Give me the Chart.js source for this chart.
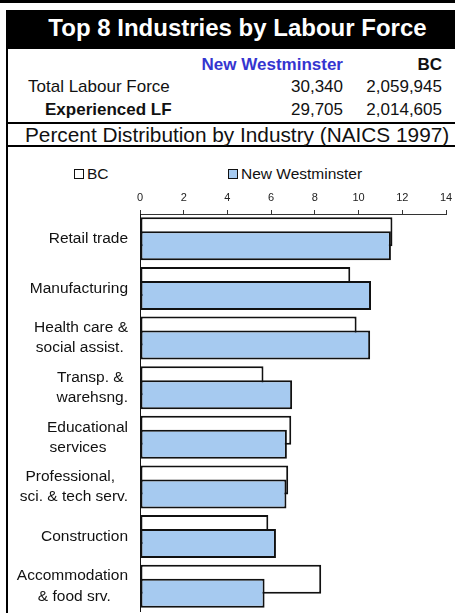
<!DOCTYPE html>
<html>
<head>
<meta charset="utf-8">
<script src="https://cdn.jsdelivr.net/npm/chart.js@4.4.1/dist/chart.umd.min.js"></script>
<style>
    body { margin: 0; width: 455px; height: 613px; overflow: hidden; background: #fff;
           font-family: Arial, 'Liberation Sans', sans-serif; color: #111; position: relative; }
    .abs { position: absolute; line-height: 1; white-space: nowrap; }
    .blk { position: absolute; background: #000; }
    .b { font-weight: bold; }
    .box { position: absolute; width: 8px; height: 8px; border: 1px solid #111; }
</style>
</head>
<body>
<!-- header frame -->
<div class="blk" style="left:0;top:0;width:455px;height:3px"></div>
<div class="blk" style="left:6px;top:10px;width:449px;height:39px"></div>
<div class="blk" style="left:6px;top:10px;width:2px;height:603px"></div>
<div class="blk" style="left:6px;top:122px;width:449px;height:2px"></div>
<div class="blk" style="left:6px;top:145px;width:449px;height:2px"></div>

<div class="abs b" style="left:0;width:475px;text-align:center;top:16px;font-size:24px;color:#fff">Top 8 Industries by Labour Force</div>

<div class="abs b" style="right:112px;top:56px;font-size:17px;color:#3535d0">New Westminster</div>
<div class="abs b" style="right:13px;top:56px;font-size:17px">BC</div>

<div class="abs" style="left:28px;top:78px;font-size:17px">Total Labour Force</div>
<div class="abs" style="right:112px;top:78px;font-size:17px">30,340</div>
<div class="abs" style="right:13px;top:78px;font-size:17px">2,059,945</div>

<div class="abs b" style="left:45px;top:101px;font-size:17px">Experienced LF</div>
<div class="abs" style="right:112px;top:101px;font-size:17px">29,705</div>
<div class="abs" style="right:13px;top:101px;font-size:17px">2,014,605</div>

<div class="abs" style="left:25px;top:125px;font-size:20.8px">Percent Distribution by Industry (NAICS 1997)</div>

<!-- legend -->
<div class="box" style="left:74px;top:169px;background:#fff"></div>
<div class="abs" style="left:87px;top:166px;font-size:15.5px">BC</div>
<div class="box" style="left:228px;top:169px;background:#a6caf0"></div>
<div class="abs" style="left:241px;top:166px;font-size:15.5px">New Westminster</div>

<div style="position:absolute;left:8px;top:147px;width:447px;height:466px">
    <canvas id="industryChart"></canvas>
</div>

<script>
// Industries (multi-line labels, trailing spaces mimic the centred lines)
const industries = [
    'Retail trade',
    'Manufacturing',
    ['Health care &', 'social assist. '],
    ['Transp. & ', 'warehsng.'],
    ['Educational', 'services     '],
    ['Professional,   ', 'sci. & tech serv.'],
    'Construction',
    ['Accommodation', '& food srv.    ']
];

// Percent of experienced labour force
const bcShare = [11.55, 9.62, 9.91, 5.65, 6.92, 6.78, 5.87, 8.29];
const newWestShare = [11.48, 10.57, 10.53, 6.96, 6.72, 6.70, 6.22, 5.70];

const axisTicks = [0, 2, 4, 6, 8, 10, 12, 14];

const FONT = "Arial, 'Liberation Sans', sans-serif";

// draw BC first, then New Westminster on top of it
const drawOrderPlugin = {
    id: 'drawOrder',
    beforeDatasetsDraw(chart) {
        [0, 1].forEach(i => chart.getDatasetMeta(i).controller.draw());
        return false;
    }
};

function initIndustryChart() {
    const ctx = document.getElementById('industryChart');

    new Chart(ctx, {
        type: 'bar',
        data: {
            labels: industries,
            datasets: [
                {
                    label: 'BC',
                    data: bcShare,
                    backgroundColor: '#ffffff',
                    borderColor: '#111111',
                    borderWidth: 2,
                    borderSkipped: false
                },
                {
                    label: 'New Westminster',
                    data: newWestShare,
                    backgroundColor: '#a6caf0',
                    borderColor: '#111111',
                    borderWidth: 2,
                    borderSkipped: false
                }
            ]
        },
        options: {
            indexAxis: 'y',
            responsive: true,
            maintainAspectRatio: false,
            animation: false,
            categoryPercentage: 0.565,
            barPercentage: 2.07,
            layout: { padding: { top: 0, right: 9, bottom: 2, left: 0 } },
            plugins: {
                legend: { display: false },
                tooltip: { enabled: false }
            },
            scales: {
                x: {
                    position: 'top',
                    min: 0,
                    max: 14,
                    afterBuildTicks: (scale) => {
                        scale.ticks = axisTicks.map(v => ({ value: v }));
                    },
                    afterFit: (scale) => {
                        scale.height = 67;
                        scale.paddingLeft = 0;
                        scale.paddingRight = 0;
                    },
                    grid: {
                        drawOnChartArea: false,
                        drawTicks: true,
                        tickLength: 4,
                        color: '#333'
                    },
                    border: { display: true, color: '#333', width: 1 },
                    ticks: {
                        padding: 5,
                        color: '#222',
                        font: { size: 11, family: FONT }
                    }
                },
                y: {
                    afterFit: (scale) => {
                        scale.width = 132;
                        scale.paddingTop = 0;
                        scale.paddingBottom = 0;
                    },
                    grid: { display: false, drawTicks: false },
                    border: { display: true, color: '#111', width: 1 },
                    ticks: {
                        padding: 12,
                        color: '#111',
                        autoSkip: false,
                        font: { size: 15.5, family: FONT, lineHeight: 1.3 }
                    }
                }
            }
        },
        plugins: [drawOrderPlugin]
    });
}

document.addEventListener('DOMContentLoaded', initIndustryChart);
</script>
</body>
</html>
